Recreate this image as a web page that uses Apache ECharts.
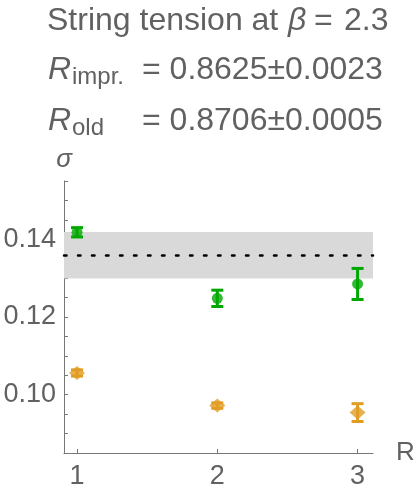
<!DOCTYPE html>
<html>
<head>
<meta charset="utf-8">
<title>String tension at beta = 2.3</title>
<script src="https://cdn.jsdelivr.net/npm/echarts@6/dist/echarts.min.js"></script>
<style>
  html, body { margin: 0; padding: 0; background: #fff; }
  #chart { width: 415px; height: 493px; }
</style>
</head>
<body>
<div id="chart"></div>
<script>
// distances R
const rValues = [1, 2, 3]

// sigma, improved action (green) and its errors
const sigmaImpr = [0.1418, 0.1248, 0.1285]
const sigmaImprErr = [0.0012, 0.0021, 0.0040]

// sigma, old action (orange) and its errors
const sigmaOld = [0.1056, 0.0972, 0.0954]
const sigmaOldErr = [0.0008, 0.0007, 0.0023]

// reference value with uncertainty band
const sigmaRef = 0.1359
const sigmaRefErr = 0.0060

// axis ticks
const xTicks = [1, 2, 3]
const yLabelTicks = [0.10, 0.12, 0.14]
const yMinorTicks = [0.085, 0.09, 0.095, 0.10, 0.105, 0.11, 0.115, 0.12, 0.125, 0.13, 0.135, 0.14, 0.145, 0.15, 0.155]

const textColor = '#616161'
const font = 'Liberation Sans, Arial, sans-serif'
const green = '#00a800'
const orange = '#e19c24'

const toPoints = (ys, errs) => rValues.map((r, i) => [r, ys[i], errs[i]])

const errorBar = (color) => (params, api) => {
  const x = api.value(0)
  const y = api.value(1)
  const e = api.value(2)
  const top = api.coord([x, y + e])
  const bot = api.coord([x, y - e])
  const half = 6
  const style = { stroke: color, lineWidth: 3 }
  return {
    type: 'group',
    children: [
      { type: 'line', shape: { x1: top[0], y1: top[1], x2: bot[0], y2: bot[1] }, style },
      { type: 'line', shape: { x1: top[0] - half, y1: top[1], x2: top[0] + half, y2: top[1] }, style },
      { type: 'line', shape: { x1: bot[0] - half, y1: bot[1], x2: bot[0] + half, y2: bot[1] }, style }
    ]
  }
}

const chart = echarts.init(document.getElementById('chart'), null, { renderer: 'canvas' })

const titleText = (text, x, y, size, italic) => ({
  type: 'text',
  x: x,
  y: y,
  style: {
    text: text,
    fill: textColor,
    font: (italic ? 'italic ' : '') + size + 'px ' + font,
    verticalAlign: 'middle',
    align: 'left'
  }
})

const option = {
  animation: false,
  backgroundColor: '#fff',
  graphic: [
    titleText('String tension at', 47, 21, 32, false),
    titleText('β', 288, 21, 32, true),
    titleText('=', 314, 21, 32, false),
    titleText('2.3', 344, 21, 32, false),
    titleText('R', 48, 70, 32, true),
    titleText('impr.', 72, 77, 24, false),
    titleText('= 0.8625±0.0023', 142, 70, 32, false),
    titleText('R', 48, 121, 32, true),
    titleText('old', 72, 128, 24, false),
    titleText('= 0.8706±0.0005', 142, 121, 32, false)
  ],
  grid: {
    left: 64,
    right: 42,
    top: 181,
    bottom: 40,
    containLabel: false,
    outerBoundsMode: 'none'
  },
  xAxis: {
    type: 'value',
    min: 0.907,
    max: 3.11,
    name: 'R',
    nameLocation: 'end',
    nameGap: 23,
    nameTextStyle: { color: textColor, fontSize: 26, fontFamily: font },
    splitLine: { show: false },
    axisLine: { onZero: false, lineStyle: { color: '#777', width: 1 } },
    axisTick: { inside: true, length: 4, customValues: xTicks, lineStyle: { color: '#777' } },
    axisLabel: {
      customValues: xTicks,
      color: textColor,
      fontSize: 27,
      fontFamily: font,
      margin: 10
    }
  },
  yAxis: {
    type: 'value',
    min: 0.085,
    max: 0.155,
    name: 'σ',
    nameLocation: 'end',
    nameGap: 8,
    nameTextStyle: { color: textColor, fontSize: 26, fontFamily: font, fontStyle: 'italic' },
    splitLine: { show: false },
    axisLine: { show: true, onZero: false, lineStyle: { color: '#777', width: 1 } },
    axisTick: { show: true, inside: true, length: 4, customValues: yMinorTicks, lineStyle: { color: '#777' } },
    axisLabel: {
      customValues: yLabelTicks,
      color: textColor,
      fontSize: 27,
      fontFamily: font,
      margin: 8,
      formatter: (v) => v.toFixed(2)
    }
  },
  series: [
    {
      name: 'band',
      type: 'scatter',
      data: [],
      silent: true,
      markArea: {
        silent: true,
        itemStyle: { color: '#d9d9d9' },
        data: [[{ yAxis: sigmaRef - sigmaRefErr }, { yAxis: sigmaRef + sigmaRefErr }]]
      },
      markLine: {
        silent: true,
        precision: 5,
        symbol: 'none',
        label: { show: false },
        lineStyle: { color: '#000', width: 2.5, type: [2.5, 11.5], cap: 'round' },
        data: [{ yAxis: sigmaRef }]
      }
    },
    {
      name: 'impr. errors',
      type: 'custom',
      renderItem: errorBar(green),
      data: toPoints(sigmaImpr, sigmaImprErr),
      z: 3
    },
    {
      name: 'old errors',
      type: 'custom',
      renderItem: errorBar(orange),
      data: toPoints(sigmaOld, sigmaOldErr),
      z: 3
    },
    {
      name: 'impr.',
      type: 'scatter',
      symbol: 'circle',
      symbolSize: 11,
      itemStyle: { color: green },
      data: toPoints(sigmaImpr, sigmaImprErr).map(p => [p[0], p[1]]),
      z: 4
    },
    {
      name: 'old',
      type: 'scatter',
      symbol: 'diamond',
      symbolSize: [16, 14],
      itemStyle: { color: orange },
      data: toPoints(sigmaOld, sigmaOldErr).map(p => [p[0], p[1]]),
      z: 4
    }
  ]
}

chart.setOption(option)
</script>
</body>
</html>
